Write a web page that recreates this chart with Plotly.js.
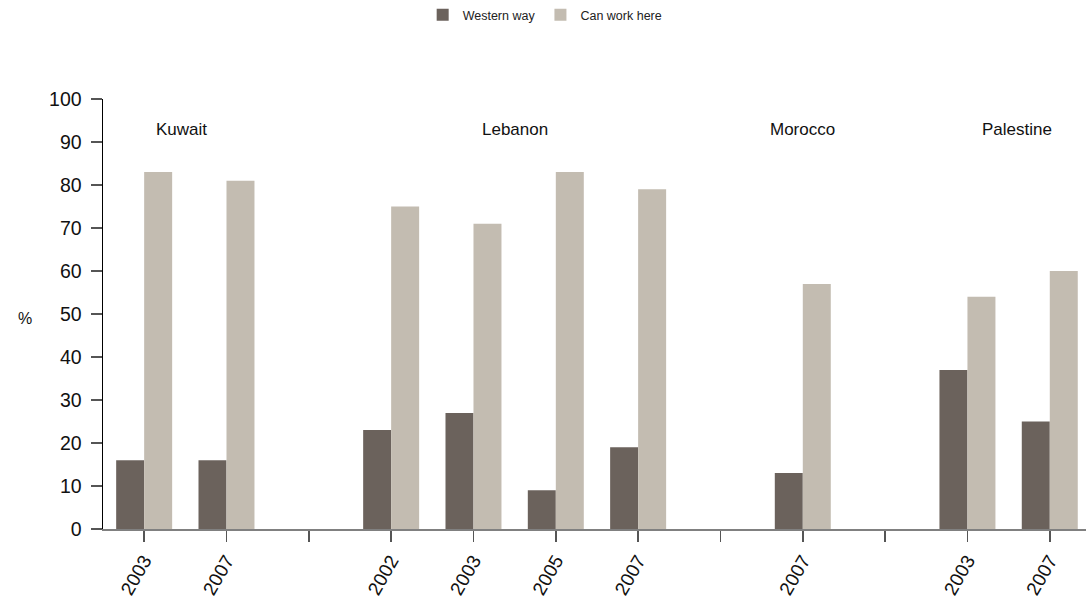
<!DOCTYPE html>
<html>
<head>
<meta charset="utf-8">
<script src="https://cdn.plot.ly/plotly-3.0.1.min.js"></script>
<style>html,body{margin:0;padding:0;background:#fff;}#chart{width:1086px;height:600px;}</style>
</head>
<body>
<div id="chart"></div>
<script>
const yearLabels = ["2003","2007","","2002","2003","2005","2007","","2007","","2003","2007"];
const westernWay = [16,16,null,23,27,9,19,null,13,null,37,25];
const canWorkHere = [83,81,null,75,71,83,79,null,57,null,54,60];
const countries = ["Kuwait","Lebanon","Morocco","Palestine"];
const countryCenters = [0.45,4.5,8,10.6];
const slots = yearLabels.map((_, i) => i);

const traces = [
  {type:'bar', name:'Western way', x:slots, y:westernWay, marker:{color:'#6b625c'}},
  {type:'bar', name:'Can work here', x:slots, y:canWorkHere, marker:{color:'#c3bcb1'}}
];

const annotations = countries.map((c, i) => ({
  text:c, x:countryCenters[i], y:93, xref:'x', yref:'y', showarrow:false,
  font:{family:'Liberation Sans Narrow, Liberation Sans, Arial', size:17, color:'#111'}
}));
annotations.push({text:'%', xref:'paper', yref:'paper', x:-0.088, y:0.49, showarrow:false,
  font:{family:'Liberation Sans, Arial', size:16, color:'#111'}});

const layout = {
  width:1086, height:600,
  margin:{l:103, r:0, t:99, b:71},
  paper_bgcolor:'#fff', plot_bgcolor:'#fff',
  barmode:'group', bargap:0.32, bargroupgap:0,
  showlegend:true,
  legend:{orientation:'h', xref:'container', yref:'container', x:0.502, xanchor:'center', y:1.0, yanchor:'top',
    font:{family:'Liberation Sans Narrow, Liberation Sans, Arial', size:12.5, color:'#222'}, itemwidth:30, traceorder:'normal'},
  xaxis:{range:[-0.5,11.44], tickmode:'array', tickvals:slots, ticktext:yearLabels, tickangle:-60,
    showgrid:false, zeroline:false, showline:true, linecolor:'#808080', linewidth:2,
    ticks:'outside', ticklen:11, tickcolor:'#555', tickwidth:1.5, automargin:false,
    tickfont:{family:'Liberation Sans, Arial', size:19, color:'#111'}},
  yaxis:{range:[0,100], dtick:10, showgrid:false, zeroline:false, showline:true, linecolor:'#000', linewidth:1.5,
    ticks:'outside', ticklen:11, tickcolor:'#555', tickwidth:1.5, ticklabelstandoff:5, automargin:false,
    tickfont:{family:'Liberation Sans, Arial', size:19.5, color:'#111'}},
  annotations:annotations
};

Plotly.newPlot('chart', traces, layout, {displayModeBar:false, staticPlot:true});
</script>
</body>
</html>
